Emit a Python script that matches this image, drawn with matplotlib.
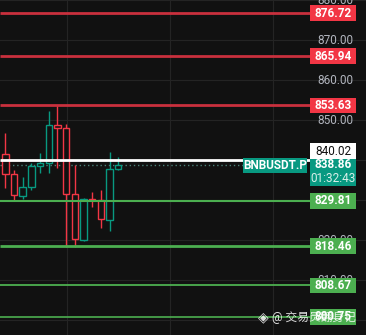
#!/usr/bin/env python3
"""BNBUSDT.P hollow candles with support / resistance levels, TradingView-like dark style."""
import matplotlib
matplotlib.use("Agg")
import matplotlib.pyplot as plt
from matplotlib.patches import Rectangle

plt.rcParams["font.family"] = ["Roboto", "DejaVu Sans", "Noto Sans CJK SC"]

# ---------------------------------------------------------------------------
# Data
# ---------------------------------------------------------------------------
opens  = [841.4, 836.6, 831.0, 833.2, 838.5, 839.3, 848.7, 847.9, 831.6, 820.0, 830.2, 829.9, 825.0, 837.7]
highs  = [846.7, 837.5, 835.7, 839.3, 841.7, 852.3, 853.8, 848.9, 838.7, 830.5, 831.9, 832.5, 842.0, 840.8]
lows   = [832.9, 830.0, 830.2, 832.5, 836.8, 836.8, 837.9, 818.3, 818.2, 819.8, 828.2, 823.1, 822.3, 837.5]
closes = [836.6, 831.2, 833.3, 838.5, 839.3, 848.7, 847.9, 831.6, 820.2, 830.2, 830.0, 825.2, 837.7, 838.86]

red_levels = [876.72, 865.94, 853.63]
green_levels = [829.81, 818.46, 808.67, 800.75]
green_widths = [1.5, 2.0, 1.3, 1.2]
grid_prices = [800, 810, 820, 830, 840, 850, 860, 870, 880]
white_level = 840.02
last_price = 838.86
countdown = "01:32:43"
symbol = "BNBUSDT.P"
watermark = "@ 交易员翻身记"

BG = "#111111"
GRID = "#242424"
UP = "#089981"
DOWN = "#f23645"
RED_LINE = "#c9303d"
GREEN = "#4caf50"
TEXT = "#b2b5be"

W, H = 366, 335
fig = plt.figure(figsize=(W / 100, H / 100), dpi=100, facecolor=BG)
ax = fig.add_axes([0, 0, 1, 1], facecolor=BG)
ax.set_axis_off()

step = 8.69          # px per candle
x0 = 5.3             # px of first candle centre
ax.set_xlim(-x0 / step, -x0 / step + W / step)
ax.set_ylim(796.25, 880.0)
yt = ax.get_yaxis_transform()   # x axes fraction, y data


def fx(px):
    return px / W


# grid
for p in grid_prices:
    ax.axhline(p, color=GRID, lw=0.8, zorder=0)
for px in (67, 170, 273):
    ax.plot([fx(px), fx(px)], [0, 1], transform=ax.transAxes,
            color=GRID, lw=0.8, zorder=0)

# price scale labels
for p in grid_prices:
    ax.text(fx(335), p, f"{p:.2f}", transform=yt, ha="center", va="center",
            color=TEXT, fontsize=8.5, zorder=1)

# candles
for i, (o, h, l, c) in enumerate(zip(opens, highs, lows, closes)):
    col = UP if c >= o else DOWN
    ax.vlines(i, l, h, color=col, lw=1.0, zorder=3)
    lo, hi = min(o, c), max(o, c)
    ax.bar(i, max(hi - lo, 0.3), bottom=lo, width=0.74, facecolor=BG,
           edgecolor=col, linewidth=1.0, zorder=4)

line_end = fx(310)
box_w = fx(46)
box_h = 3.9   # price units (~15.5 px)


def label_box(price, text, color, txt_color="white", weight="bold", yoff=0.0):
    yc = price + yoff
    ax.add_patch(Rectangle((fx(310), yc - box_h / 2), box_w, box_h, transform=yt,
                           facecolor=color, edgecolor="none", zorder=6))
    ax.text(fx(333), yc, text, transform=yt, ha="center", va="center",
            color=txt_color, fontsize=8.5, fontweight=weight, zorder=7)


# resistance levels
for p in red_levels:
    ax.hlines(p, 0, line_end, transform=yt, color=RED_LINE, lw=2.0, zorder=5)
    label_box(p, f"{p:.2f}", DOWN)

# support levels
for p, lw in zip(green_levels, green_widths):
    ax.hlines(p, 0, line_end, transform=yt, color=GREEN, lw=lw, zorder=5)
    label_box(p, f"{p:.2f}", GREEN)

# white level, box shifted up
ax.hlines(white_level, 0, line_end, transform=yt, color="white", lw=2.0, zorder=5)
label_box(white_level, f"{white_level:.2f}", "white", txt_color="#111111",
          weight="normal", yoff=2.2)

# last price dotted line + labels
ax.hlines(last_price, 0, fx(243), transform=yt, color="#4a7f76", lw=1.0,
          linestyles=(0, (1, 2)), zorder=2)
ax.add_patch(Rectangle((fx(310), last_price - 5.3), box_w, 6.8, transform=yt,
                       facecolor=UP, edgecolor="none", zorder=6))
ax.text(fx(333), last_price + 0.1, f"{last_price:.2f}", transform=yt, ha="center",
        va="center", color="white", fontsize=8.5, fontweight="bold", zorder=7)
ax.text(fx(333), last_price - 3.4, countdown, transform=yt, ha="center",
        va="center", color="#d8efe9", fontsize=8.5, zorder=7)
ax.add_patch(Rectangle((fx(243), last_price - 2.2), fx(64), box_h, transform=yt,
                       facecolor=UP, edgecolor="none", zorder=6))
ax.text(fx(275), last_price - 0.25, symbol, transform=yt, ha="center", va="center",
        color="white", fontsize=8.5, fontweight="bold", zorder=7)

# watermark
ax.text(fx(258), 800.6, "◈", transform=yt, ha="left", va="center",
        color="white", alpha=0.85, fontsize=10, zorder=8, family=["DejaVu Sans"])
ax.text(fx(272), 800.6, watermark, transform=yt, ha="left", va="center",
        color="white", alpha=0.85, fontsize=8.5, zorder=8,
        family=["Roboto", "Noto Sans CJK SC"])

fig.savefig("out.png", dpi=100, facecolor=BG)
